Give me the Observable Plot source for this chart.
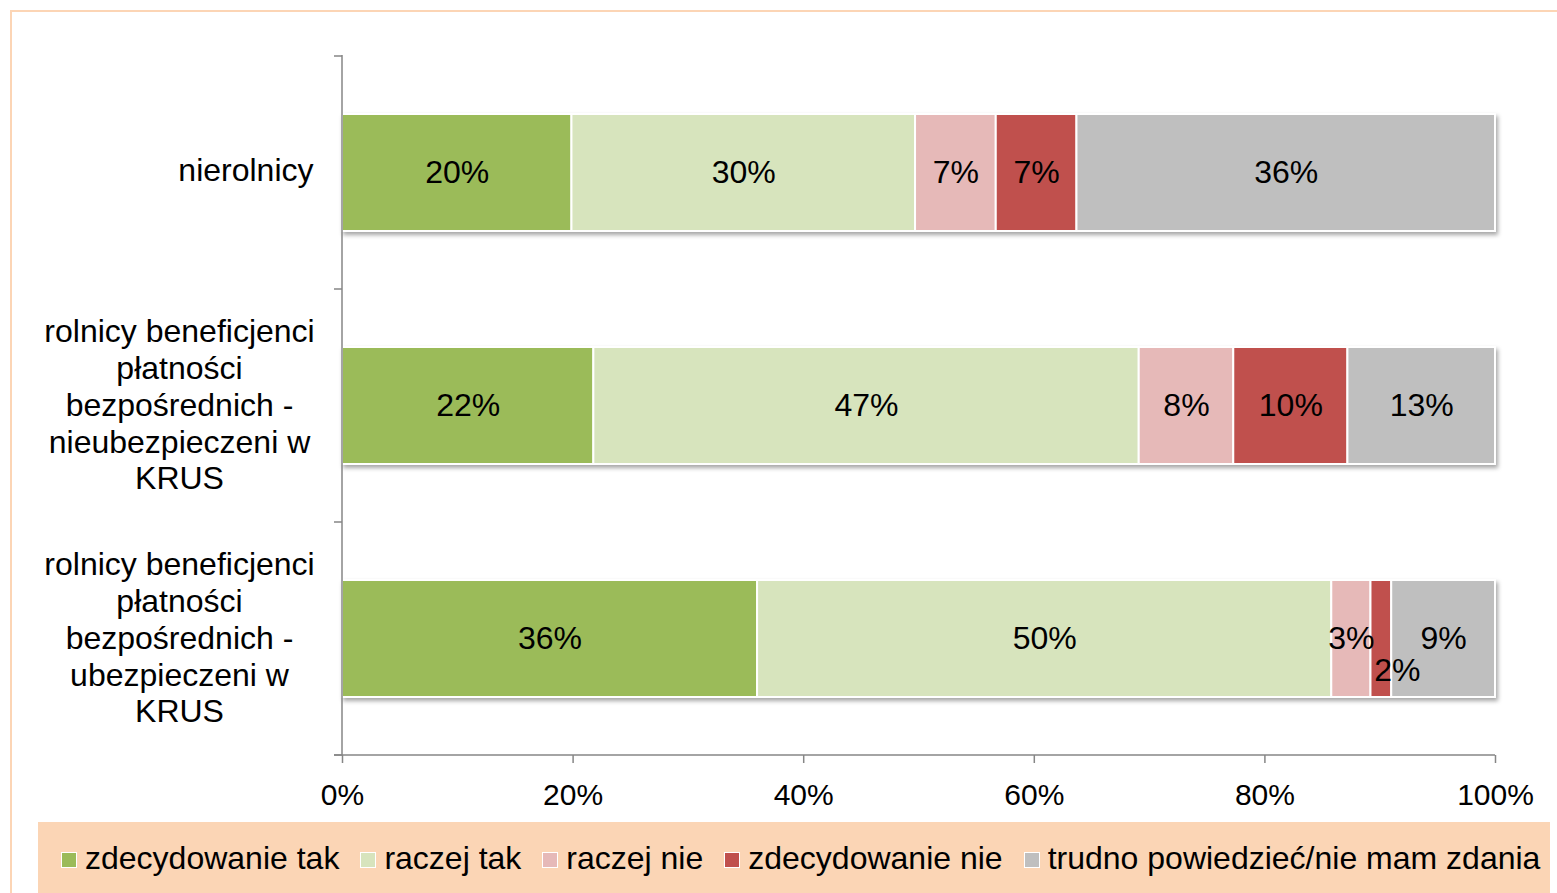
<!DOCTYPE html>
<html><head><meta charset="utf-8">
<script src="https://cdn.jsdelivr.net/npm/d3@7"></script>
<script src="https://cdn.jsdelivr.net/npm/@observablehq/plot@0.6"></script>
<style>
body{margin:0;width:1557px;height:893px;overflow:hidden;background:#fff;font-family:"Liberation Sans",Arial,sans-serif;position:relative}
#frame{position:absolute;left:10px;top:10px;width:1600px;height:900px;border:2px solid #fcd5b5;box-sizing:border-box}
#chart{position:absolute;left:0;top:0}
#legend{position:absolute;left:38px;top:822px;width:1512px;height:71px;background:#fbd5b5;display:flex;align-items:center;padding-left:23px;padding-top:2px;box-sizing:border-box;font-size:32px;color:#000;white-space:nowrap}
.item{display:flex;align-items:center;margin-right:21px}
.sw{width:14px;height:14px;border:1px solid #fff;margin-right:8px;margin-top:3px}
</style></head><body>
<div id="frame"></div><div id="chart"></div><div id="legend"></div>
<script>
const categories = [
  "nierolnicy",
  "rolnicy beneficjenci\npłatności\nbezpośrednich -\nnieubezpieczeni w\nKRUS",
  "rolnicy beneficjenci\npłatności\nbezpośrednich -\nubezpieczeni w\nKRUS"
];
const series = ["zdecydowanie tak", "raczej tak", "raczej nie", "zdecydowanie nie", "trudno powiedzieć/nie mam zdania"];
const colors = ["#9bbb59", "#d7e4bd", "#e6b9b8", "#c0504d", "#bfbfbf"];
const nierolnicy = [19.9, 29.8, 7.0, 7.0, 36.3];
const nieubezpieczeni = [21.8, 47.3, 8.2, 9.9, 12.8];
const ubezpieczeni = [36.0, 49.8, 3.4, 1.8, 9.0];
const xTicks = [0, 20, 40, 60, 80, 100];

const rows = [nierolnicy, nieubezpieczeni, ubezpieczeni];
const data = [];
rows.forEach((vals, i) => vals.forEach((v, j) => data.push({cat: categories[i], series: series[j], value: v})));

function axisLines(index, scales, values, dims) {
  const {marginLeft: ml, marginRight: mr, marginTop: mt, marginBottom: mb, width: w, height: h} = dims;
  const g = d3.create("svg:g").attr("stroke", "#868686").attr("stroke-width", 1.5);
  g.append("line").attr("x1", ml).attr("x2", ml).attr("y1", mt).attr("y2", h - mb);
  g.append("line").attr("x1", ml - 8).attr("x2", w - mr).attr("y1", h - mb).attr("y2", h - mb);
  const y = scales.y;
  const bw = y.bandwidth ? y.bandwidth() : 0;
  const step = y.step ? y.step() : bw * 2;
  const bounds = categories.map(c => y(c) - (step - bw) / 2);
  bounds.push(bounds[bounds.length - 1] + step);
  for (const b of bounds) g.append("line").attr("x1", ml - 8).attr("x2", ml).attr("y1", b).attr("y2", b);
  return g.node();
}

const singleLine = categories.filter(c => !c.includes("\n"));
const multiLine = categories.filter(c => c.includes("\n"));

const plot = Plot.plot({
  width: 1557,
  height: 822,
  marginLeft: 342,
  marginRight: 62,
  marginTop: 55,
  marginBottom: 67,
  style: {fontFamily: "'Liberation Sans', Arial, sans-serif", fontSize: "32px", background: "transparent", overflow: "visible", color: "#000"},
  x: {domain: [0, 100], label: null},
  y: {domain: categories, paddingInner: 0.5, paddingOuter: 0.25, label: null},
  color: {domain: series, range: colors},
  marks: [
    Plot.barX(data, Plot.stackX({x: "value", y: "cat", z: "series", fill: "series", stroke: "white", strokeWidth: 2})),
    Plot.text(data, Plot.stackX({x: "value", y: "cat", z: "series", text: d => d.value < 2.5 ? null : Math.round(d.value) + "%", fontSize: 32, fill: "#000"})),
    Plot.text(data, Plot.stackX({x: "value", y: "cat", z: "series", text: d => d.value < 2.5 ? Math.round(d.value) + "%" : null, fontSize: 32, fill: "#000", dx: 16, dy: 32})),
    axisLines,
    Plot.axisX({ticks: xTicks, tickFormat: d => d + "%", tickSize: 8, tickPadding: 20, stroke: "#868686", strokeWidth: 1.5, fontSize: 30, label: null}),
    Plot.axisY(singleLine, {tickSize: 0, tickPadding: 29, textAnchor: "end", fontSize: 32, dy: -2, label: null}),
    Plot.axisY(multiLine, {tickSize: 0, tickPadding: 163, textAnchor: "middle", fontSize: 32, lineHeight: 1.15, dy: -2, label: null})
  ]
});
plot.querySelectorAll('g[aria-label="bar"]').forEach(g => g.style.filter = "drop-shadow(2px 3px 2px rgba(0,0,0,0.35))");
document.getElementById("chart").appendChild(plot);

const legend = document.getElementById("legend");
series.forEach((s, i) => {
  const it = document.createElement("div"); it.className = "item";
  const sw = document.createElement("div"); sw.className = "sw"; sw.style.background = colors[i];
  const t = document.createElement("span"); t.textContent = s;
  it.appendChild(sw); it.appendChild(t); legend.appendChild(it);
});
</script>
</body></html>
